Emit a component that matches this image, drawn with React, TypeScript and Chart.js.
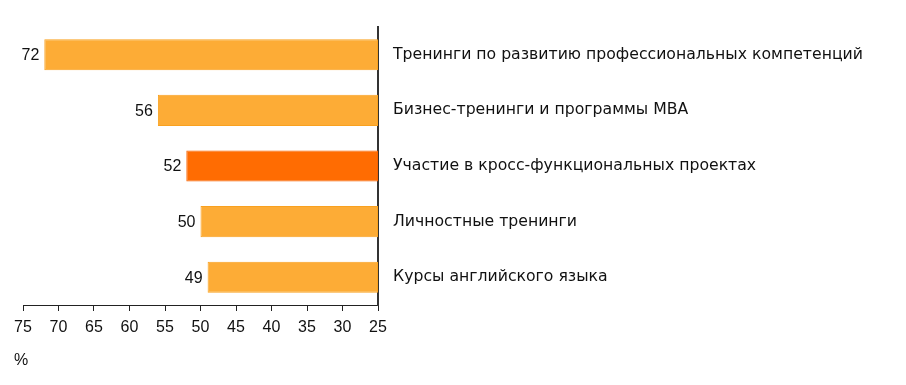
import React, { useEffect, useRef } from "react";
import { Chart, registerables } from "chart.js";

Chart.register(...registerables);

const categories = [
  "Тренинги по развитию профессиональных компетенций",
  "Бизнес-тренинги и программы MBA",
  "Участие в кросс-функциональных проектах",
  "Личностные тренинги",
  "Курсы английского языка",
];
const values = [72, 56, 52, 50, 49];
const highlightIndex = 2;
const xTicks = [75, 70, 65, 60, 55, 50, 45, 40, 35, 30, 25];
const unitLabel = "%";

const baseColor = "#FDAC36";
const baseBorder = "#F9A11F";
const hiColor = "#FF6C02";
const hiBorder = "#F66100";

const valueLabels = {
  id: "valueLabels",
  afterDatasetsDraw(chart: any) {
    const ctx = chart.ctx;
    const meta = chart.getDatasetMeta(0);
    ctx.save();
    ctx.font = "16px 'Liberation Sans', Arial, sans-serif";
    ctx.fillStyle = "#111";
    ctx.textAlign = "right";
    ctx.textBaseline = "middle";
    meta.data.forEach((bar: any, i: number) => {
      const left = Math.min(bar.x, bar.base);
      ctx.fillText(String(values[i]), left - 5, bar.y + 1);
    });
    ctx.textAlign = "left";
    ctx.fillText(unitLabel, 14, 361);
    ctx.restore();
  },
};

export default function App() {
  const ref = useRef<HTMLCanvasElement>(null);
  useEffect(() => {
    if (!ref.current) return;
    const chart = new Chart(ref.current, {
      type: "bar",
      data: {
        labels: categories,
        datasets: [
          {
            data: values.map((v) => [25, v]) as any,
            backgroundColor: values.map((_, i) => (i === highlightIndex ? hiColor : baseColor)),
            borderColor: values.map((_, i) => (i === highlightIndex ? hiBorder : baseBorder)),
            borderWidth: 1,
            borderSkipped: false,
            barPercentage: 0.56,
            categoryPercentage: 1,
          },
        ],
      },
      options: {
        indexAxis: "y",
        animation: false,
        responsive: false,
        maintainAspectRatio: false,
        layout: { padding: { top: 27, left: 23, right: 0, bottom: 0 } },
        plugins: { legend: { display: false }, tooltip: { enabled: false } },
        scales: {
          x: {
            type: "linear",
            min: 25,
            max: 75,
            reverse: true,
            afterBuildTicks: (scale: any) => {
              scale.ticks = xTicks.map((v) => ({ value: v }));
            },
            afterFit: (scale: any) => {
              scale.height = 80;
            },
            grid: {
              display: true,
              drawOnChartArea: false,
              drawTicks: true,
              tickLength: 6,
              color: "#222",
              lineWidth: 1,
            },
            border: { display: true, color: "#222", width: 1 },
            ticks: {
              padding: 7,
              color: "#111",
              font: { family: "'Liberation Sans', Arial, sans-serif", size: 16 },
              maxRotation: 0,
              autoSkip: false,
            },
          },
          y: {
            position: "right",
            afterFit: (scale: any) => {
              scale.width = 528;
            },
            grid: { display: false, drawTicks: false },
            border: { display: true, color: "#333", width: 2 },
            ticks: {
              padding: 15,
              color: "#111",
              font: { family: "'DejaVu Sans', Verdana, sans-serif", size: 15.7 },
            },
          },
        },
      },
      plugins: [valueLabels],
    });
    return () => chart.destroy();
  }, []);
  return (
    <div style={{ position: "absolute", left: 0, top: 0, width: 906, height: 385, background: "#fff" }}>
      <canvas ref={ref} width={906} height={385} style={{ width: 906, height: 385 }} />
    </div>
  );
}
